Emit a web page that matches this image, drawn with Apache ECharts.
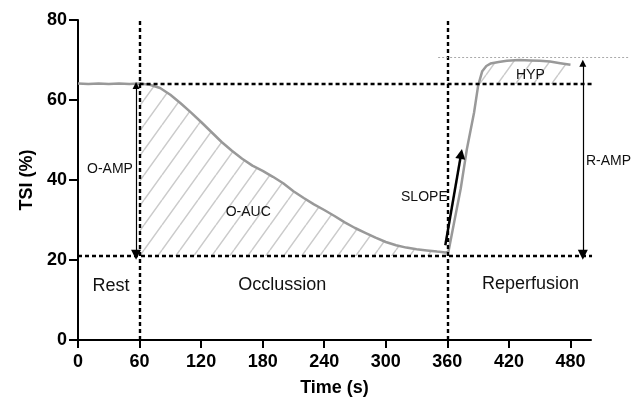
<!DOCTYPE html>
<html>
<head>
<meta charset="utf-8">
<script src="https://cdn.jsdelivr.net/npm/echarts@6/dist/echarts.min.js"></script>
<style>
  html, body { margin: 0; padding: 0; background: #fff; }
  #chart { width: 643px; height: 402px; }
</style>
</head>
<body>
<div id="chart"></div>
<script>
// TSI durante reposo / oclusion / reperfusion (lectura del grafico original)
const timeS = [0, 10, 20, 30, 40, 50, 60, 70, 80, 90, 100, 110, 120, 130, 140, 150, 160, 170, 180,
  190, 200, 210, 220, 230, 240, 250, 260, 270, 280, 290, 300, 310, 320, 330, 340, 350, 358, 361,
  366, 373, 379, 386, 390, 394, 398, 402, 410, 418, 430, 441, 450, 460, 470, 480]
const tsi = [64.1, 64.0, 64.1, 64.0, 64.1, 64.0, 64.1, 63.8, 63.0, 61.3, 59.2, 56.9, 54.5, 52.0, 49.5,
  47.3, 45.3, 43.6, 42.3, 40.8, 39.2, 37.2, 35.5, 33.9, 32.5, 31.0, 29.4, 28.0, 26.8, 25.6, 24.5, 23.7,
  23.1, 22.7, 22.4, 22.1, 21.9, 22.0, 28.6, 37.8, 47.7, 56.8, 63.6, 67.2, 68.5, 69.1, 69.5, 69.8, 70.0,
  69.9, 69.8, 69.6, 69.2, 68.8]

const xTicks = [0, 60, 120, 180, 240, 300, 360, 420, 480]

const restLevel = 64
const minLevel = 21
const peakLevel = 70.8
const occStart = 60
const repStart = 360

// lineas guia (tiempo, TSI)
const dashedGuides = [
  [[occStart, 0], [occStart, 80.5]],
  [[repStart, 0], [repStart, 80.5]],
  [[occStart, restLevel], [501, restLevel]],
  [[0, minLevel], [501, minLevel]],
]
const dottedGuides = [[[351, peakLevel], [537, peakLevel]]]
const doubleArrows = [
  [[56.6, 63.6], [56.6, 21.3]],   // O-AMP
  [[492, 69.2], [492, 21.3]],     // R-AMP
]
const slopeArrow = [[[358, 23.7], [373.4, 46.5]]]

// anotaciones
const noteText = ['O-AMP', 'O-AUC', 'SLOPE', 'HYP', 'R-AMP', 'Rest', 'Occlussion', 'Reperfusion']
const noteTime = [31.2, 165.9, 337.6, 441, 517, 32.2, 199, 441]
const noteTsi = [42.7, 32.0, 35.8, 66.3, 44.7, 13.4, 13.7, 13.9]
const noteSize = [14, 14, 14, 14, 14, 18, 18, 18]

const FONT = '"Liberation Sans", Arial, sans-serif'

function hatch() {
  const c = document.createElement('canvas')
  c.width = 18; c.height = 25
  const g = c.getContext('2d')
  g.strokeStyle = '#cbcbcb'
  g.lineWidth = 1.5
  g.beginPath()
  for (const dx of [-18, 0, 18]) { g.moveTo(dx, 25); g.lineTo(dx + 18, 0) }
  g.stroke()
  return c
}
const hatchFill = { image: hatch(), repeat: 'repeat' }

const pts = timeS.map((t, i) => [t, tsi[i]])
const occArea = pts.filter((p) => p[0] >= occStart && p[0] <= 361)
const hypArea = pts.filter((p) => p[0] >= 390)

const toLines = (arr) => arr.map((seg) => ({ coords: seg }))

const chart = echarts.init(document.getElementById('chart'))
chart.setOption({
  animation: false,
  textStyle: { fontFamily: FONT },
  grid: { left: 78, right: 52, top: 20, bottom: 60 },
  xAxis: {
    type: 'value', min: 0, max: 500,
    name: 'Time (s)', nameLocation: 'middle', nameGap: 39,
    nameTextStyle: { fontSize: 18, fontWeight: 'bold', color: '#000', fontFamily: FONT },
    axisLine: { lineStyle: { color: '#000', width: 2 } },
    axisTick: { customValues: xTicks, length: 8, lineStyle: { color: '#000', width: 2 } },
    axisLabel: { customValues: xTicks, margin: 13, fontSize: 18, fontWeight: 'bold', color: '#000', fontFamily: FONT },
    splitLine: { show: false },
  },
  yAxis: {
    type: 'value', min: 0, max: 80, interval: 20,
    name: 'TSI (%)', nameLocation: 'middle', nameGap: 42, nameRotate: 90,
    nameTextStyle: { fontSize: 18, fontWeight: 'bold', color: '#000', fontFamily: FONT },
    axisLine: { show: true, lineStyle: { color: '#000', width: 2 } },
    axisTick: { show: true, length: 9, lineStyle: { color: '#000', width: 2 } },
    axisLabel: { margin: 11, fontSize: 18, fontWeight: 'bold', color: '#000', fontFamily: FONT },
    splitLine: { show: false },
  },
  series: [
    {
      name: 'O-AUC', type: 'line', data: occArea, z: 1, showSymbol: false, silent: true,
      lineStyle: { width: 0 }, areaStyle: { color: hatchFill, opacity: 1, origin: minLevel },
    },
    {
      name: 'HYP', type: 'line', data: hypArea, z: 1, showSymbol: false, silent: true,
      lineStyle: { width: 0 }, areaStyle: { color: hatchFill, opacity: 1, origin: restLevel },
    },
    {
      name: 'TSI', type: 'line', data: pts, z: 3, showSymbol: false,
      lineStyle: { color: '#999999', width: 2.5 },
    },
    {
      type: 'lines', coordinateSystem: 'cartesian2d', clip: false, z: 4, silent: true,
      data: toLines(dashedGuides), symbol: 'none',
      lineStyle: { color: '#000', width: 2.4, type: [4, 3], opacity: 1 },
    },
    {
      type: 'lines', coordinateSystem: 'cartesian2d', clip: false, z: 4, silent: true,
      data: toLines(dottedGuides), symbol: 'none',
      lineStyle: { color: '#aaaaaa', width: 1, type: [2, 2], opacity: 1 },
    },
    {
      type: 'lines', coordinateSystem: 'cartesian2d', clip: false, z: 5, silent: true,
      data: toLines(doubleArrows), symbol: ['triangle', 'triangle'], symbolSize: [7, 10],
      lineStyle: { color: '#000', width: 1.2, opacity: 1 },
    },
    {
      type: 'lines', coordinateSystem: 'cartesian2d', clip: false, z: 5, silent: true,
      data: toLines(slopeArrow), symbol: ['none', 'triangle'], symbolSize: [7, 10],
      lineStyle: { color: '#000', width: 2.5, opacity: 1 },
    },
    {
      type: 'scatter', clip: false, z: 6, silent: true, symbolSize: 0,
      itemStyle: { opacity: 1, color: '#000' },
      data: noteText.map((n, i) => ({
        value: [noteTime[i], noteTsi[i]],
        label: {
          show: true, position: 'inside', formatter: n, fontSize: noteSize[i],
          color: '#111', textBorderWidth: 0, opacity: 1, fontFamily: FONT,
        },
      })),
    },
  ],
})
</script>
</body>
</html>
